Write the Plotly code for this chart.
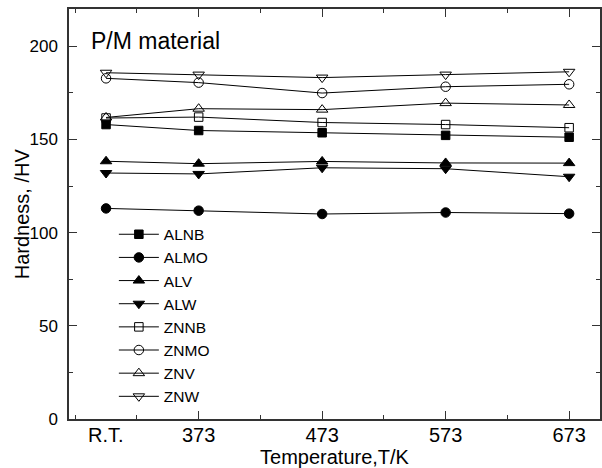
import plotly.graph_objects as go

temps = [298, 373, 473, 573, 673]
tick_vals = [373, 473, 573, 673]
tick_text = ["373", "473", "573", "673"]

series_names = ["ALNB", "ALMO", "ALV", "ALW", "ZNNB", "ZNMO", "ZNV", "ZNW"]
ALNB = [158.0, 154.8, 153.6, 152.2, 151.2]
ALMO = [113.0, 111.8, 110.0, 110.8, 110.2]
ALV = [138.3, 137.0, 138.2, 137.4, 137.3]
ALW = [132.0, 131.5, 134.8, 134.3, 130.0]
ZNNB = [161.5, 162.0, 159.1, 158.0, 156.3]
ZNMO = [182.8, 180.5, 174.9, 178.3, 179.6]
ZNV = [161.8, 166.5, 166.0, 169.5, 168.5]
ZNW = [185.8, 184.8, 183.2, 184.8, 186.3]

values = [ALNB, ALMO, ALV, ALW, ZNNB, ZNMO, ZNV, ZNW]
symbols = ["square", "circle", "triangle-up", "triangle-down",
           "square-open", "circle-open", "triangle-up-open", "triangle-down-open"]
sizes = [8.5, 9.5, 10, 10, 8.5, 9.5, 10, 10]

FONT = "Arial, Liberation Sans, sans-serif"

fig = go.Figure()
for name, ys, sym, sz in zip(series_names, values, symbols, sizes):
    fig.add_trace(go.Scatter(
        x=temps, y=ys, name=name, mode="lines+markers",
        line=dict(color="black", width=1),
        marker=dict(symbol=sym, size=sz, color="black",
                    line=dict(color="black", width=1)),
    ))

axis_common = dict(
    showline=True, linecolor="#333333", linewidth=1.5, mirror="ticks",
    ticks="inside", ticklen=8, tickwidth=1, tickcolor="#333333",
    showgrid=False, zeroline=False,
)

fig.update_layout(
    width=602, height=468,
    margin=dict(l=69, r=0, t=9, b=49),
    paper_bgcolor="white", plot_bgcolor="white",
    font=dict(family=FONT, color="black"),
    xaxis=dict(
        range=[268, 698], tickvals=tick_vals, ticktext=tick_text,
        tickfont=dict(size=20, family=FONT), ticklabelstandoff=-3,
        title=dict(text="Temperature,T/K", font=dict(size=20, family=FONT), standoff=5),
        minor=dict(tickmode="array", tickvals=[273, 323, 423, 523, 623],
                   ticks="inside", ticklen=4, tickcolor="#333333"),
        **axis_common,
    ),
    yaxis=dict(
        range=[0, 220], tickvals=[0, 50, 100, 150, 200],
        tickfont=dict(size=17, family=FONT), ticklabelstandoff=6,
        minor=dict(tickmode="array", tickvals=[25, 75, 125, 175],
                   ticks="inside", ticklen=4, tickcolor="#333333"),
        **axis_common,
    ),
    legend=dict(
        x=0.0845, y=0.491, xanchor="left", yanchor="top",
        font=dict(size=15.5, family=FONT), bgcolor="rgba(0,0,0,0)",
        itemwidth=40, tracegroupgap=0,
    ),
    annotations=[
        dict(text="P/M material", x=0.0375, y=0.922, xref="paper", yref="paper",
             xanchor="left", yanchor="middle", showarrow=False,
             font=dict(size=23, family=FONT)),
        dict(text="R.T.", x=298, y=0, xref="x", yref="paper",
             xanchor="center", yanchor="top", yshift=-3, showarrow=False,
             font=dict(size=20, family=FONT)),
        dict(text="Hardness, /HV", x=-0.088, y=0.5, xref="paper", yref="paper",
             xanchor="center", yanchor="middle", textangle=-90, showarrow=False,
             font=dict(size=20, family=FONT)),
    ],
)

fig.write_html("out.html", config={"displayModeBar": False},
               post_script="document.body.style.margin='0';document.body.style.overflow='hidden';")
